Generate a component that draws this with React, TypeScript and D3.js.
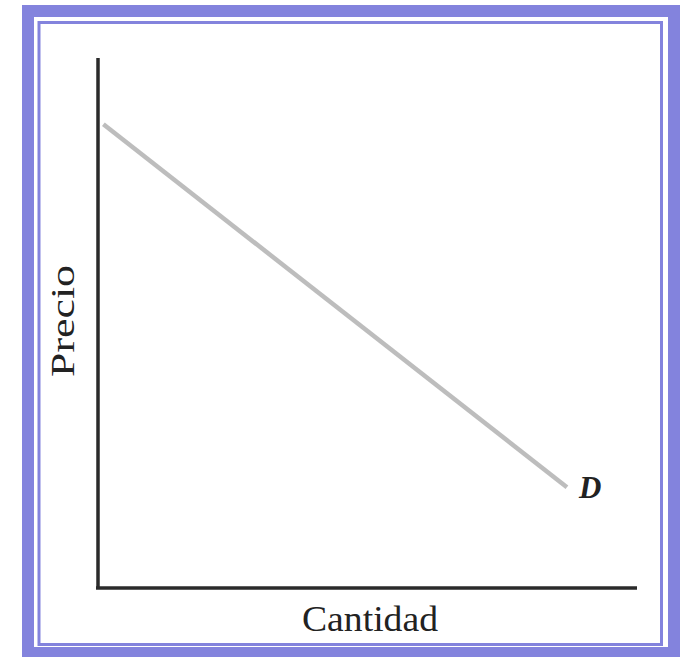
import { useEffect, useRef } from "react";
import * as d3 from "d3";

// demand curve D: quantity vs price (arbitrary units)
const quantities = [0.1, 8.7];
const prices = [8.75, 1.9];
const curveLabel = "D";
const xTitle = "Cantidad";
const yTitle = "Precio";

const W = 684;
const H = 657;
const SERIF = "Liberation Serif, Times New Roman, Times, serif";

export default function App() {
  const ref = useRef<SVGSVGElement>(null);

  useEffect(() => {
    const svg = d3.select(ref.current);
    svg.selectAll("*").remove();

    // frame: thick purple band + thin inner line
    svg.append("rect").attr("x", 0).attr("y", 0).attr("width", W).attr("height", H).attr("fill", "#fff");
    svg.append("rect")
      .attr("x", 28).attr("y", 11).attr("width", 646).attr("height", 642)
      .attr("fill", "none").attr("stroke", "#8383dd").attr("stroke-width", 12);
    svg.append("rect")
      .attr("x", 39).attr("y", 22.5).attr("width", 622.5).attr("height", 622)
      .attr("fill", "none").attr("stroke", "#8383dd").attr("stroke-width", 3);

    const x = d3.scaleLinear().domain([0, 10]).range([98, 637]);
    const y = d3.scaleLinear().domain([0, 10]).range([588, 58]);

    const g = svg.append("g");

    // axes
    g.append("line")
      .attr("x1", x(0)).attr("y1", y(10)).attr("x2", x(0)).attr("y2", y(0))
      .attr("stroke", "#2a2a2a").attr("stroke-width", 3.5);
    g.append("line")
      .attr("x1", x(0) - 2).attr("y1", y(0)).attr("x2", x(10)).attr("y2", y(0))
      .attr("stroke", "#2a2a2a").attr("stroke-width", 3.5);

    // demand line
    const pts = quantities.map((q, i) => [q, prices[i]] as [number, number]);
    const line = d3.line<[number, number]>().x(d => x(d[0])).y(d => y(d[1]));
    g.append("path")
      .attr("d", line(pts))
      .attr("fill", "none")
      .attr("stroke", "#bdbdbd")
      .attr("stroke-width", 4.5);

    const last = pts[pts.length - 1];
    g.append("text")
      .attr("x", x(last[0]) + 12)
      .attr("y", y(last[1]) + 11)
      .attr("font-family", SERIF)
      .attr("font-style", "italic")
      .attr("font-weight", "bold")
      .attr("font-size", 31)
      .attr("fill", "#222")
      .text(curveLabel);

    g.append("text")
      .attr("x", 370)
      .attr("y", 631)
      .attr("text-anchor", "middle")
      .attr("font-family", SERIF)
      .attr("font-size", 36)
      .attr("textLength", 136)
      .attr("lengthAdjust", "spacingAndGlyphs")
      .attr("fill", "#222")
      .text(xTitle);

    g.append("text")
      .attr("transform", "translate(74,321) rotate(-90)")
      .attr("text-anchor", "middle")
      .attr("font-family", SERIF)
      .attr("font-size", 33)
      .attr("textLength", 112)
      .attr("lengthAdjust", "spacingAndGlyphs")
      .attr("fill", "#222")
      .text(yTitle);
  }, []);

  return (
    <svg
      ref={ref}
      width={W}
      height={H}
      style={{ position: "absolute", left: 0, top: 0, display: "block" }}
    />
  );
}
